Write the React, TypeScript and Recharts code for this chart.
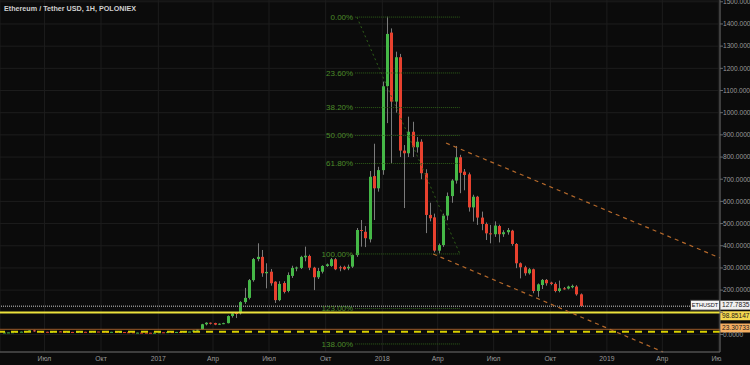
import React from "react"
import { ComposedChart, Bar, XAxis, YAxis, CartesianGrid, ReferenceLine } from "recharts"

// weekly candles, week index = weeks since 2016-01-04
const weeks = Array.from({ length: 135 }, (_, i) => 16 + i)

const opens = [
  7.5, 8.9, 9.3, 10.0, 12.5, 12.6, 13.9, 18.5, 15.2, 12.6, 12.1, 10.8, 11.7, 13.8, 11.6, 10.9, 11.4, 11.0, 11.2, 12.0,
  11.9, 12.7, 13.2, 13.1, 12.0, 11.9, 11.9, 10.9, 11.0, 10.0, 9.7, 8.2, 8.4, 8.2, 7.8, 7.2, 8.0, 10.0, 9.8, 10.7,
  10.5, 11.4, 11.3, 12.8, 13.0, 17.6, 23.0, 46.0, 53.0, 51.5, 44.5, 48.5, 51.0, 83.0, 97.0, 95.5, 146, 165, 245, 340,
  350, 276, 283, 238, 155, 232, 196, 264, 300, 300, 348, 354, 301, 258, 283, 309, 309, 339, 303, 305,
  298, 306, 358, 471, 463, 429, 714, 659, 741, 1120, 1361, 1050, 1250, 829, 817, 914, 844, 869, 727, 539,
  528, 378, 403, 536, 624, 694, 799, 734, 722, 573, 621, 527, 498, 456, 452, 489, 452, 461, 468, 408,
  321, 303, 276, 294, 196, 223, 246, 234, 228, 196, 208, 207, 213, 216, 181,
]
const highs = [
  9.2, 9.6, 10.6, 13.4, 13.2, 14.4, 19.0, 21.5, 15.8, 14.2, 12.3, 12.2, 14.9, 14.2, 12.0, 12.1, 11.6, 11.4, 12.3, 12.3,
  13.0, 14.2, 13.5, 13.2, 12.3, 12.2, 12.0, 11.3, 11.1, 10.3, 9.9, 8.9, 8.6, 8.4, 8.0, 8.3, 11.0, 10.5, 11.0, 10.9,
  11.6, 11.6, 13.0, 13.2, 18.9, 24.0, 48.0, 55.0, 54.0, 53.0, 50.0, 53.0, 86.0, 98.0, 99.0, 150, 210, 250, 345, 411,
  381, 321, 295, 240, 240, 240, 280, 310, 306, 355, 396, 360, 305, 300, 312, 320, 345, 345, 310, 310,
  315, 360, 480, 516, 489, 737, 860, 756, 1140, 1433, 1380, 1275, 1265, 854, 982, 959, 890, 880, 745, 594,
  545, 410, 545, 640, 700, 850, 810, 746, 730, 630, 625, 554, 505, 494, 510, 495, 470, 480, 472, 412,
  325, 310, 300, 297, 230, 250, 250, 238, 235, 243, 214, 220, 225, 222, 185,
]
const lows = [
  7.0, 8.6, 9.1, 9.8, 11.5, 12.2, 13.6, 12.0, 11.2, 11.8, 9.8, 10.4, 11.5, 11.1, 8.3, 10.5, 10.6, 10.6, 11.0, 11.3,
  11.7, 12.4, 12.8, 11.8, 11.4, 11.5, 10.7, 10.4, 9.6, 9.2, 7.9, 7.6, 7.8, 7.5, 7.0, 7.0, 7.9, 9.5, 9.6, 10.3,
  10.4, 10.9, 11.2, 12.4, 12.9, 17.0, 21.5, 41.0, 45.0, 42.0, 43.0, 46.5, 50.0, 76.0, 74.0, 90, 138, 158, 238, 330,
  260, 208, 220, 142, 150, 185, 190, 255, 285, 295, 330, 290, 200, 250, 275, 305, 305, 290, 285, 290,
  290, 300, 350, 396, 394, 415, 516, 644, 720, 953, 772, 1000, 800, 570, 800, 800, 820, 700, 457, 510,
  370, 365, 395, 515, 594, 680, 637, 650, 554, 509, 494, 470, 426, 411, 440, 415, 440, 450, 400, 299,
  253, 265, 270, 186, 170, 205, 220, 222, 190, 190, 202, 203, 208, 175, 125,
]
const closes = [
  8.9, 9.3, 10.0, 12.5, 12.6, 13.9, 18.5, 15.2, 12.6, 12.1, 10.8, 11.7, 13.8, 11.6, 10.9, 11.4, 11.0, 11.2, 12.0, 11.9,
  12.7, 13.2, 13.1, 12.0, 11.9, 11.9, 10.9, 11.0, 10.0, 9.7, 8.2, 8.4, 8.2, 7.8, 7.2, 8.0, 10.0, 9.8, 10.7, 10.5,
  11.4, 11.3, 12.8, 13.0, 17.6, 23.0, 46.0, 53.0, 51.5, 44.5, 48.5, 51.0, 83.0, 95.0, 95.5, 146, 165, 245, 340, 350,
  276, 282, 231, 155, 228, 192, 268, 300, 302, 350, 355, 301, 258, 286, 309, 316, 339, 294, 302, 294,
  305, 358, 471, 468, 434, 711, 659, 741, 1119, 1355, 1050, 1250, 829, 817, 914, 844, 869, 727, 539, 524,
  378, 403, 536, 624, 694, 799, 729, 719, 573, 621, 527, 498, 456, 455, 491, 452, 461, 471, 408, 321,
  303, 276, 294, 196, 226, 246, 231, 228, 196, 208, 207, 216, 219, 181, 127.8,
]

const tickWeeks = [25.57, 38.71, 52, 64.71, 77.71, 90.86, 104, 116.86, 129.86, 143, 156.14, 169, 182]
const tickLabels = ["Июл", "Окт", "2017", "Апр", "Июл", "Окт", "2018", "Апр", "Июл", "Окт", "2019", "Апр", "Июл"]
const priceTicks = [0, 100, 200, 300, 400, 500, 600, 700, 800, 900, 1000, 1100, 1200, 1300, 1400, 1500]
// tick labels that sit under a price tag on the scale
const hiddenTicks = [100]

// fibonacci retracement (start week, end week, 0% price, 100% price)
const fibLevels = [0, 0.236, 0.382, 0.5, 0.618, 1, 1.23, 1.38]
const fibLabels = ["0.00%", "23.60%", "38.20%", "50.00%", "61.80%", "100.00%", "123.00%", "138.00%"]
const fibStart = 97.7
const fibEnd = 122.0
const fibHigh = 1431
const fibLow = 363

const lastPrice = 127.7835
const yellowLevel = 98.85147
const orangeLevel = 23.30733
const dashedLevel = 12

const rows = weeks.map((t, i) => ({
  t,
  open: opens[i],
  high: highs[i],
  low: lows[i],
  close: closes[i],
  range: [lows[i], highs[i]],
}))

const GREEN = "#45b847"
const RED = "#e8412e"
const FIB = "#2f6019"
const FIB_TEXT = "#4c8c2a"
const CHANNEL = "#b5692b"
const FONT = "'Liberation Sans', Arial, sans-serif"

const Candle = (props: any) => {
  const { x, y, width, height, payload } = props
  if (!payload || height == null) return null
  const top = height < 0 ? y + height : y
  const h = Math.abs(height)
  const { open, close, high, low } = payload
  const k = h / (high - low)
  const cx = Math.round(x + width / 2) + 0.5
  const bTop = top + (high - Math.max(open, close)) * k
  const bBot = top + (high - Math.min(open, close)) * k
  return (
    <g>
      <line x1={cx} x2={cx} y1={top} y2={top + h} stroke="#7b7b7b" strokeWidth={1} />
      <rect x={cx - 1.5} y={bTop} width={3} height={Math.max(bBot - bTop, 1)} fill={close >= open ? GREEN : RED} />
    </g>
  )
}

const FibLabel = ({ viewBox, txt }: any) =>
  viewBox ? (
    <text x={viewBox.x - 2} y={viewBox.y} dy="0.35em" textAnchor="end" fill={FIB_TEXT} fontSize={8} fontFamily={FONT}>
      {txt}
    </text>
  ) : null

// price tag on the right scale; shift moves the box off the line so tags don't collide
const PriceTag = ({ viewBox, txt, bg, tag, shift = 0 }: any) => {
  if (!viewBox) return null
  const right = viewBox.x + viewBox.width
  const y = viewBox.y + shift
  return (
    <g fontFamily={FONT}>
      {tag && (
        <g>
          <rect x={right - 29.5} y={y - 5} width={29} height={10} fill="#f4f4f4" stroke="#333" />
          <text x={right - 15} y={y} dy="0.35em" textAnchor="middle" fontSize={5.6} fill="#111">
            {tag}
          </text>
        </g>
      )}
      <rect x={right} y={y - 4.5} width={30} height={9} fill={bg} />
      <text x={right + 2} y={y} dy="0.35em" fontSize={6.6} fill="#1a1a1a">
        {txt}
      </text>
    </g>
  )
}

const XTick = ({ x, y, payload }: any) => {
  const i = tickWeeks.indexOf(payload.value)
  return (
    <text x={x} y={y} dy="0.71em" textAnchor="middle" fill="#9a9a9a" fontSize={6.8} fontFamily={FONT} clipPath="url(#xclip)">
      {tickLabels[i]}
    </text>
  )
}

const YTick = ({ x, y, payload }: any) => {
  if (hiddenTicks.includes(payload.value)) return null
  return (
    <text x={x} y={y} dy="0.355em" fill="#9a9a9a" fontSize={6.6} fontFamily={FONT}>
      {payload.value.toFixed(4)}
    </text>
  )
}

export default function App() {
  return (
    <div style={{ width: 750, height: 365, background: "#0b0b0b", position: "relative" }}>
      <style>{"body{margin:0;background:#0b0b0b}"}</style>
      <svg width={0} height={0} style={{ position: "absolute" }}>
        <defs>
          <clipPath id="xclip">
            <rect x={0} y={340} width={721.5} height={30} />
          </clipPath>
        </defs>
      </svg>
      <ComposedChart width={750} height={365} data={rows} margin={{ top: 0, right: 0, bottom: 0, left: 0 }}>
        <CartesianGrid stroke="#1d1d1d" strokeWidth={1} />
        <XAxis
          dataKey="t"
          type="number"
          scale="linear"
          domain={[15.252, 182.395]}
          allowDataOverflow
          ticks={tickWeeks}
          interval={0}
          height={13}
          tickLine={false}
          tickSize={4}
          tickMargin={0}
          axisLine={{ stroke: "#6a6a6a" }}
          tick={<XTick />}
        />
        <YAxis
          orientation="right"
          type="number"
          domain={[-79, 1508]}
          allowDataOverflow
          ticks={priceTicks}
          interval={0}
          width={30}
          tickSize={3}
          tickMargin={0}
          axisLine={{ stroke: "#6a6a6a" }}
          tickLine={{ stroke: "#6a6a6a" }}
          tick={<YTick />}
        />
        <Bar dataKey="range" barSize={3} shape={<Candle />} isAnimationActive={false} />

        <ReferenceLine y={dashedLevel} stroke="#d9d000" strokeWidth={2} strokeDasharray="7 6" />
        <ReferenceLine
          y={orangeLevel}
          stroke="#9a5a2a"
          strokeWidth={1}
          label={<PriceTag txt={orangeLevel.toFixed(5)} bg="#f4ae62" shift={-1.3} />}
        />
        <ReferenceLine
          y={lastPrice}
          stroke="#8a8a8a"
          strokeWidth={1.5}
          strokeDasharray="1 1"
          label={<PriceTag txt={lastPrice.toFixed(4)} bg="#f0f0f0" tag="ETHUSDT" shift={-1} />}
        />
        <ReferenceLine
          y={yellowLevel}
          stroke="#ece23c"
          strokeWidth={2}
          label={<PriceTag txt={yellowLevel.toFixed(5)} bg="#f5d850" shift={3.2} />}
        />

        {fibLevels.map((lv, i) => {
          const p = fibHigh - lv * (fibHigh - fibLow)
          return (
            <ReferenceLine
              key={fibLabels[i]}
              segment={[
                { x: fibStart, y: p },
                { x: fibEnd, y: p },
              ]}
              stroke={FIB}
              strokeDasharray="1 1"
              ifOverflow="visible"
              label={<FibLabel txt={fibLabels[i]} />}
            />
          )
        })}
        <ReferenceLine
          segment={[
            { x: fibStart + 0.4, y: fibHigh },
            { x: fibEnd, y: fibLow },
          ]}
          stroke={FIB}
          strokeDasharray="2 3"
        />

        <ReferenceLine
          segment={[
            { x: 118.8, y: 863 },
            { x: 182.39, y: 345 },
          ]}
          stroke={CHANNEL}
          strokeWidth={1.2}
          strokeDasharray="4 4"
        />
        <ReferenceLine
          segment={[
            { x: 115.8, y: 363 },
            { x: 169.2, y: -79 },
          ]}
          stroke={CHANNEL}
          strokeWidth={1.2}
          strokeDasharray="4 4"
        />
      </ComposedChart>
      <div
        style={{
          position: "absolute",
          left: 4,
          top: 4,
          color: "#cfcfcf",
          fontSize: 7.2,
          fontWeight: "bold",
          fontFamily: FONT,
        }}
      >
        Ethereum / Tether USD, 1H, POLONIEX
      </div>
    </div>
  )
}
